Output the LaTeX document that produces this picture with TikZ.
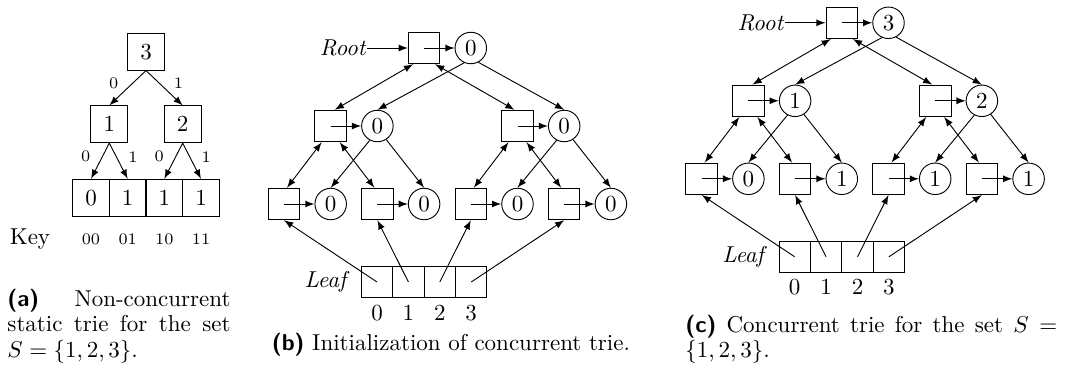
\documentclass[tikz,border=0pt]{standalone}
\usetikzlibrary{calc,arrows}
\newcommand{\ctriebody}[7]{%
  \node[cbox] (R) at (140.1,0) {};
  \node[cnode] (Rc) at (186.8,0) {#1};
  \node[anchor=east, inner sep=0pt] (Rt) at ($(R.west)+(-41,0)$) {\textit{Root}};
  \node[cbox] (A) at (46.7,78) {};
  \node[cnode] (Ac) at (93.4,78) {#2};
  \node[cbox] (B) at (233.5,78) {};
  \node[cnode] (Bc) at (280.2,78) {#3};
  \node[cbox] (A0) at (0,156) {};
  \node[cnode] (A0c) at (46.7,156) {#4};
  \node[cbox] (A1) at (93.4,156) {};
  \node[cnode] (A1c) at (140.1,156) {#5};
  \node[cbox] (B0) at (186.8,156) {};
  \node[cnode] (B0c) at (233.5,156) {#6};
  \node[cbox] (B1) at (280.2,156) {};
  \node[cnode] (B1c) at (326.9,156) {#7};
  \node[lcell] (L0) at (93,234) {};
  \node[lcell] (L1) at (124.4,234) {};
  \node[lcell] (L2) at (155.8,234) {};
  \node[lcell] (L3) at (187.2,234) {};
  \node[anchor=east, inner sep=0pt] (Lt) at ($(L0.west)+(-11,0)$) {\textit{Leaf}};
  \node[anchor=base] (N0) at (93,272) {0};
  \node[anchor=base] (N1) at (124.4,272) {1};
  \node[anchor=base] (N2) at (155.8,272) {2};
  \node[anchor=base] (N3) at (187.2,272) {3};
  \draw[arr] (Rt.east) -- (R.west);
  \draw[arr] (R.center) -- (Rc.west);
  \draw[arr] (A.center) -- (Ac.west);
  \draw[arr] (B.center) -- (Bc.west);
  \draw[arr] (A0.center) -- (A0c.west);
  \draw[arr] (A1.center) -- (A1c.west);
  \draw[arr] (B0.center) -- (B0c.west);
  \draw[arr] (B1.center) -- (B1c.west);
  \draw[darr] ($(R.south)+(-11,0)$) -- ($(A.north)+(4,0)$);
  \draw[darr] ($(R.south)+(11,0)$) -- ($(B.north)+(-3,0)$);
  \draw[arr] (Rc.-114) -- (Ac.north);
  \draw[arr] (Rc.-62) -- (Bc.north);
  \draw[darr] ($(A.south)+(-9,0)$) -- ($(A0.north)+(3,0)$);
  \draw[darr] ($(A.south)+(9,0)$) -- ($(A1.north)+(-3,0)$);
  \draw[darr] ($(B.south)+(-9,0)$) -- ($(B0.north)+(3,0)$);
  \draw[darr] ($(B.south)+(9,0)$) -- ($(B1.north)+(-3,0)$);
  \draw[arr] (Ac.-118) -- (A0c.north);
  \draw[arr] (Ac.-57) -- (A1c.north);
  \draw[arr] (Bc.-118) -- (B0c.north);
  \draw[arr] (Bc.-57) -- (B1c.north);
  \draw[arr] (L0.center) -- (A0.south);
  \draw[arr] (L1.center) -- (A1.south);
  \draw[arr] (L2.center) -- (B0.south);
  \draw[arr] (L3.center) -- (B1.south);
}
\begin{document}
\begin{tikzpicture}[x=0.4348pt,y=-0.4348pt,
  abox/.style={draw, minimum size=16pt, inner sep=0pt},
  cbox/.style={draw, minimum size=13.7pt, inner sep=0pt},
  cnode/.style={draw, circle, minimum size=13.7pt, inner sep=0pt},
  lcell/.style={draw, minimum size=13.65pt, inner sep=0pt},
  lbl/.style={font=\scriptsize, inner sep=0pt},
  arr/.style={-latex},
  darr/.style={latex-latex},
  captext/.style={inner sep=0pt, font=\fontsize{10}{11}\selectfont},
]
\useasboundingbox (0,0) rectangle (1070,365);
% ---------- (a) ----------
\node[abox] (a3) at (146,51.7) {3};
\node[abox] (a1) at (109.3,124.3) {1};
\node[abox] (a2) at (182.7,124.3) {2};
\node[abox] (c0) at (91,197.7) {0};
\node[abox] (c1) at (127.7,197.7) {1};
\node[abox] (c2) at (164.3,197.7) {1};
\node[abox] (c3) at (201,197.7) {1};
\draw[arr] (a3.south) -- node[lbl,pos=0.37,left=6pt] {0} (a1.north);
\draw[arr] (a3.south) -- node[lbl,pos=0.37,right=6pt] {1} (a2.north);
\draw[arr] (a1.south) -- node[lbl,pos=0.38,left=5pt] {0} (c0.north);
\draw[arr] (a1.south) -- node[lbl,pos=0.38,right=5pt] {1} (c1.north);
\draw[arr] (a2.south) -- node[lbl,pos=0.38,left=5pt] {0} (c2.north);
\draw[arr] (a2.south) -- node[lbl,pos=0.38,right=5pt] {1} (c3.north);
\node[anchor=base] (key) at (30,244) {Key};
\node[lbl, anchor=base] (k0) at (91,244) {00};
\node[lbl, anchor=base] (k1) at (127.7,244) {01};
\node[lbl, anchor=base] (k2) at (164.3,244) {10};
\node[lbl, anchor=base] (k3) at (201,244) {11};
\node[captext, anchor=north west, text width=97pt, align=justify] (capa) at (7,288.7)
  {\textsf{\bfseries (a)} Non-concurrent\linebreak static trie for the set\linebreak $S=\{1,2,3\}$.};
% ---------- (b) ----------
\begin{scope}[shift={(284,48)}, name prefix=b-]
  \ctriebody{0}{0}{0}{0}{0}{0}{0}
\end{scope}
\node[captext, anchor=base] (capb) at (451,350.7) {\textsf{\bfseries (b)} Initialization of concurrent trie.};
% ---------- (c) ----------
\begin{scope}[shift={(701.7,22.8)}, name prefix=c-]
  \ctriebody{3}{1}{2}{0}{1}{1}{1}
\end{scope}
\node[captext, anchor=north west, text width=161.7pt, align=justify] (capc) at (685,314.4)
  {\textsf{\bfseries (c)} Concurrent trie for the set $S=$\linebreak $\{1,2,3\}$.};
\end{tikzpicture}
\end{document}
